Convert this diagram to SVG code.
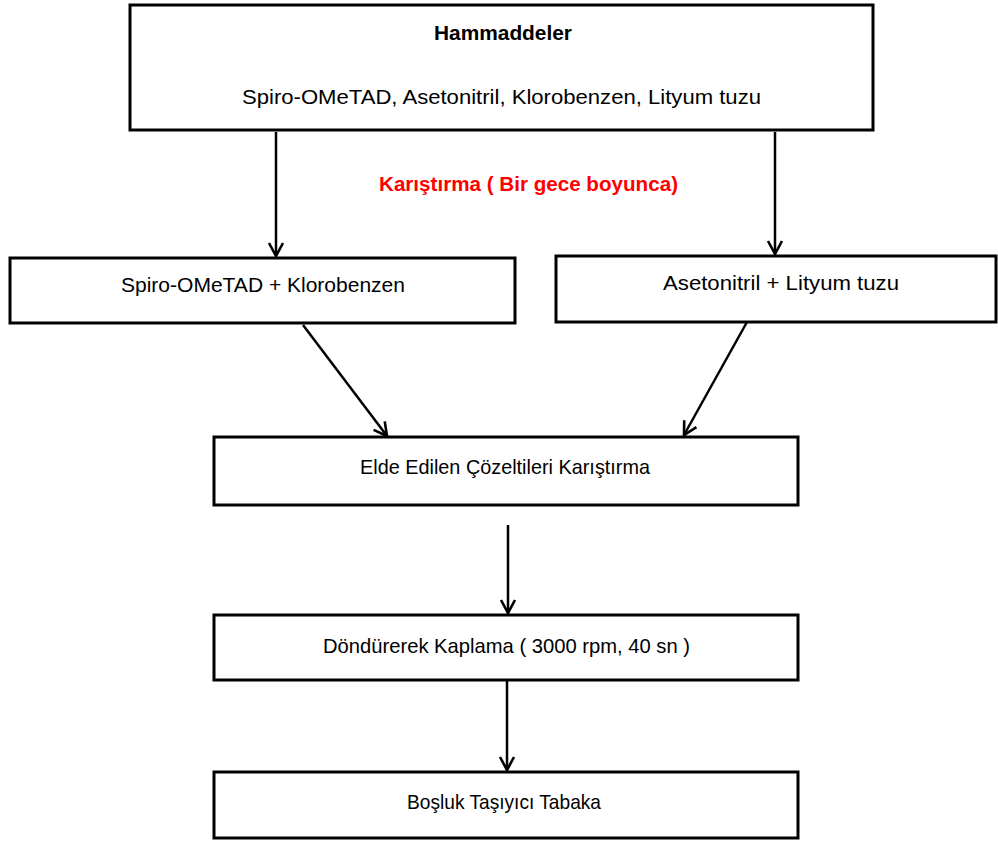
<svg xmlns="http://www.w3.org/2000/svg" width="998" height="841" viewBox="0 0 998 841">
<defs>
<style>
.box{fill:#fff;stroke:#000;stroke-width:3}
.t{font-family:"Liberation Sans",Arial,sans-serif;font-size:21px;fill:#000;text-anchor:middle}
.b{font-weight:bold;font-size:20px}
.red{fill:#ff0000;font-weight:bold;font-size:20px}
.c{stroke:#000;stroke-width:2.5;fill:none}
</style>
<marker id="ah" markerUnits="userSpaceOnUse" markerWidth="20" markerHeight="20" viewBox="-16 -10 20 20" refX="0" refY="0" orient="auto">
<path d="M -13 -7 L 0 0 L -13 7" fill="none" stroke="#000" stroke-width="2.6"/>
</marker>
</defs>
<rect width="998" height="841" fill="#fff"/>
<g id="connectors">
<line class="c" x1="276" y1="132" x2="276" y2="256" marker-end="url(#ah)"/>
<line class="c" x1="775" y1="132" x2="775" y2="254" marker-end="url(#ah)"/>
<line class="c" x1="303" y1="325" x2="387" y2="436" marker-end="url(#ah)"/>
<line class="c" x1="747" y1="322" x2="684" y2="435" marker-end="url(#ah)"/>
<line class="c" x1="508" y1="525" x2="508" y2="613" marker-end="url(#ah)"/>
<line class="c" x1="507" y1="681" x2="507" y2="770" marker-end="url(#ah)"/>
</g>
<g id="label-karistirma">
<text class="t red" x="528.5" y="191" textLength="299" lengthAdjust="spacingAndGlyphs">Karıştırma ( Bir gece boyunca)</text>
</g>
<g id="hammaddeler">
<rect class="box" x="130" y="5" width="743" height="125"/>
<text class="t b" x="503" y="40" textLength="138" lengthAdjust="spacingAndGlyphs">Hammaddeler</text>
<text class="t" x="501.5" y="104" textLength="519" lengthAdjust="spacingAndGlyphs">Spiro-OMeTAD,  Asetonitril,  Klorobenzen,  Lityum  tuzu</text>
</g>
<g id="spiro-klorobenzen">
<rect class="box" x="10" y="258" width="505" height="65"/>
<text class="t" x="263" y="292" textLength="284" lengthAdjust="spacingAndGlyphs">Spiro-OMeTAD  + Klorobenzen</text>
</g>
<g id="asetonitril-lityum">
<rect class="box" x="556" y="256" width="440" height="66"/>
<text class="t" x="781" y="290" textLength="236" lengthAdjust="spacingAndGlyphs">Asetonitril + Lityum  tuzu</text>
</g>
<g id="karistirma">
<rect class="box" x="214" y="437" width="584" height="68"/>
<text class="t" x="505" y="474" textLength="290" lengthAdjust="spacingAndGlyphs">Elde Edilen Çözeltileri Karıştırma</text>
</g>
<g id="kaplama">
<rect class="box" x="214" y="615" width="584" height="65"/>
<text class="t" x="506.5" y="653" textLength="367" lengthAdjust="spacingAndGlyphs">Döndürerek Kaplama ( 3000 rpm, 40 sn )</text>
</g>
<g id="tabaka">
<rect class="box" x="214" y="772" width="584" height="66"/>
<text class="t" x="504" y="809" textLength="194" lengthAdjust="spacingAndGlyphs">Boşluk Taşıyıcı Tabaka</text>
</g>
</svg>
